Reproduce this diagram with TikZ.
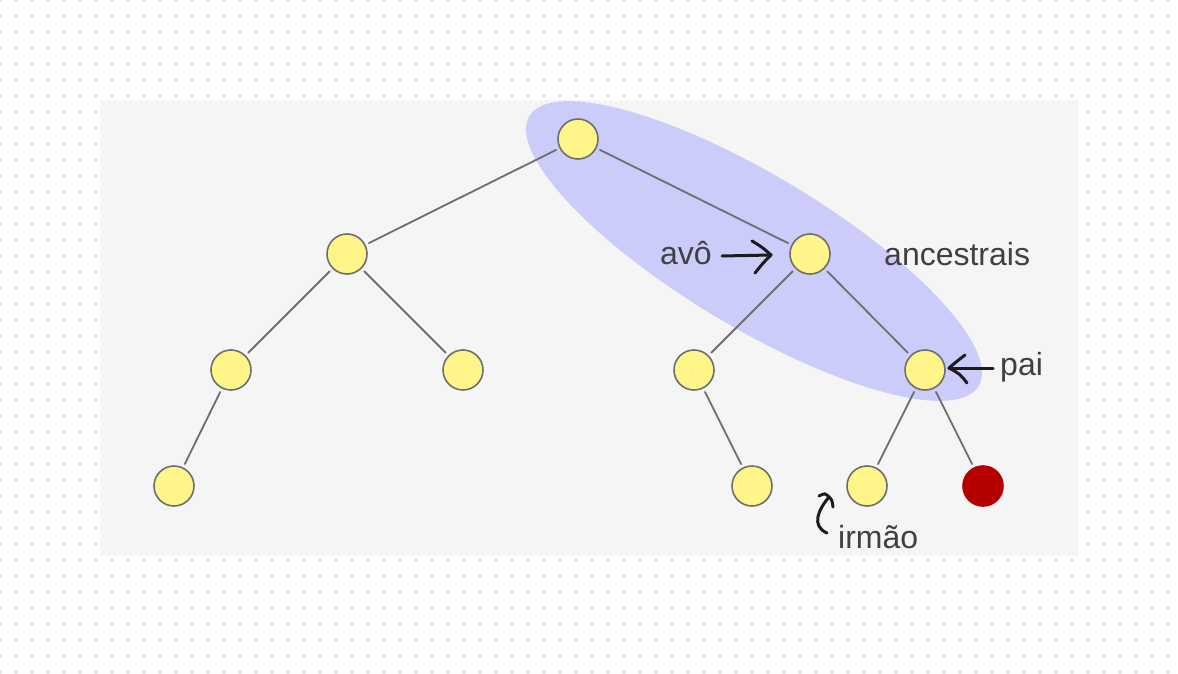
\documentclass[tikz,border=0pt]{standalone}
\usepackage{fontspec}
\setmainfont{Liberation Sans}
\definecolor{dotgray}{RGB}{204,204,204}
\definecolor{panel}{RGB}{245,245,245}
\definecolor{ancfill}{RGB}{204,204,250}
\definecolor{nodeyellow}{RGB}{255,245,137}
\definecolor{edgegray}{RGB}{110,110,110}
\definecolor{targetred}{RGB}{181,0,0}
\definecolor{labelgray}{RGB}{64,64,64}
\definecolor{ink}{RGB}{28,28,28}
\begin{document}
\begin{tikzpicture}[
		x=1pt,y=-1pt,
		line cap=round,
		line join=round,
		vertex/.style={circle,draw=edgegray,line width=1.6pt,fill=nodeyellow,minimum size=40pt,inner sep=0pt,outer sep=4.5pt},
		target/.style={vertex,draw=targetred,fill=targetred},
		edge/.style={draw=edgegray,line width=1.8pt},
		label/.style={anchor=base west,inner sep=0pt,text=labelgray,font=\fontsize{32}{38}\selectfont},
		hand/.style={draw=ink,line width=3pt}
		]
		\useasboundingbox (0,0) rectangle (1178,674);
		\foreach \i in {0,...,73}
			\foreach \j in {0,...,42}
				\fill[dotgray] (\i*16-1,\j*16-1) rectangle ++(2,2);
		\fill[panel] (100,100) rectangle (1078,556);
		\fill[ancfill] (754,251) ellipse [x radius=262,y radius=76,rotate=-31];
		\node[vertex] (root) at (578,139) {};
		\node[vertex] (l) at (347,254) {};
		\node[vertex] (avo) at (810,254) {};
		\node[vertex] (ll) at (231,370) {};
		\node[vertex] (lr) at (463,370) {};
		\node[vertex] (rl) at (694,370) {};
		\node[vertex] (pai) at (925,370) {};
		\node[vertex] (lll) at (174,486) {};
		\node[vertex] (rlr) at (752,486) {};
		\node[vertex] (irmao) at (867,486) {};
		\node[target] (alvo) at (983,486) {};
		\begin{scope}[edge]
		\draw (root) -- (l);
		\draw (root) -- (avo);
		\draw (l) -- (ll);
		\draw (l) -- (lr);
		\draw (avo) -- (rl);
		\draw (avo) -- (pai);
		\draw (ll) -- (lll);
		\draw (rl) -- (rlr);
		\draw (pai) -- (irmao);
		\draw (pai) -- (alvo);
		\end{scope}
		\node[label] (avolabel) at (660,264) {avô};
		\node[label] (anclabel) at (884,265) {ancestrais};
		\node[label] (pailabel) at (1000,375) {pai};
		\node[label] (irmaolabel) at (838,548) {irmão};
		\coordinate (avotail) at (722,256);
		\coordinate (avotip) at (771,255);
		\coordinate (paitail) at (993,368);
		\coordinate (paitip) at (949,368);
		\coordinate (irmaotail) at (827,533);
		\coordinate (irmaotip) at (829,497);
		\begin{scope}[hand]
		\draw (avotail) -- (avotip);
		\draw (752,241) .. controls (762,247) .. (avotip) .. controls (763,263) .. (755,273);
		\draw (paitail) -- (paitip);
		\draw (965,355) .. controls (956,362) .. (paitip) .. controls (960,374) .. (967,383);
		\draw (irmaotip) .. controls (818,510) and (811,526) .. (irmaotail);
		\draw (819,496) .. controls (825,493) .. (irmaotip) .. controls (832,500) .. (833,507);
		\end{scope}
		\end{tikzpicture}
\end{document}
